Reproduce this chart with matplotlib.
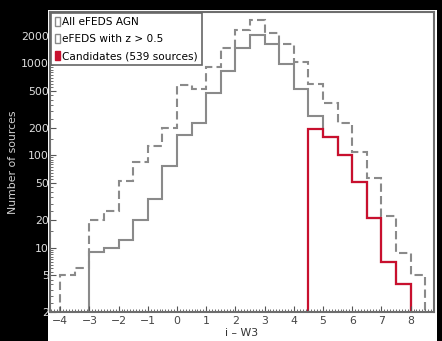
import numpy as np
import matplotlib
matplotlib.use("Agg")
import matplotlib.pyplot as plt
from matplotlib.patches import Rectangle
from matplotlib.ticker import FixedLocator, MultipleLocator, NullFormatter, LogLocator

# bin edges of i - W3 (0.5 wide)
edges_all = np.arange(-4.0, 8.51, 0.5)
edges_z = np.arange(-3.0, 8.01, 0.5)
edges_cand = np.arange(4.5, 8.01, 0.5)

# counts
n_all = [5, 6, 20, 25, 53, 85, 125, 200, 580, 520, 900, 1480, 2320, 2980,
         2150, 1600, 1020, 590, 370, 225, 110, 57, 22, 8.7, 5]
n_z = [9, 10, 12, 20, 34, 77, 168, 227, 480, 815, 1480, 2050, 1600, 970,
       520, 270, 160, 100, 52, 21, 7, 4]
n_cand = [195, 160, 100, 52, 21, 7, 4]

labels = ["All eFEDS AGN", "eFEDS with z > 0.5", "Candidates (539 sources)"]
yticks = [2, 5, 10, 20, 50, 100, 200, 500, 1000, 2000]
xticks = [-4, -3, -2, -1, 0, 1, 2, 3, 4, 5, 6, 7, 8]

gray = "#8a8a8a"
red = "#c8102e"

fig = plt.figure(figsize=(4.42, 3.41), dpi=100, facecolor="black")
# white panel behind the plot
bg = Rectangle((48 / 442, 0), (437 - 48) / 442, (341 - 10) / 341,
               transform=fig.transFigure, facecolor="white",
               edgecolor="none", zorder=-5)
fig.add_artist(bg)
ax = fig.add_axes([50 / 442, 29 / 341, 384 / 442, 300 / 341])
ax.set_zorder(2)
ax.set_facecolor("white")

ax.stairs(n_all, edges_all, baseline=1, color=gray, lw=1.5, ls=(0, (4, 2)))
ax.stairs(n_z, edges_z, baseline=1, color=gray, lw=1.5)
ax.stairs(n_cand, edges_cand, baseline=1, color=red, lw=1.6)

ax.set_yscale("log")
ax.set_xlim(-4.35, 8.8)
ax.set_ylim(2, 3600)

ax.yaxis.set_major_locator(FixedLocator(yticks))
ax.set_yticklabels([str(t) for t in yticks])
ax.yaxis.set_minor_locator(LogLocator(base=10, subs=np.arange(1, 10, 0.5)))
ax.yaxis.set_minor_formatter(NullFormatter())
ax.set_xticks(xticks)
ax.set_xticklabels([f"\u2212{abs(t)}" if t < 0 else str(t) for t in xticks])
ax.xaxis.set_minor_locator(MultipleLocator(0.1))

ax.tick_params(which="both", direction="in", color="#555555")
ax.tick_params(which="major", length=4, width=0.8)
ax.tick_params(which="minor", length=2, width=0.6)
ax.tick_params(axis="y", labelsize=7.8, labelcolor="#e0e0e0", pad=1)
ax.tick_params(axis="x", labelsize=7.8, labelcolor="#444444", pad=3)
for s in ax.spines.values():
    s.set_color("#6e6e6e")
    s.set_linewidth(1.5)

ax.set_xlabel("i \u2013 W3", fontsize=7.8, color="#333333", labelpad=1)
ax.set_ylabel("Number of sources", fontsize=7.8, color="#d0d0d0", labelpad=2)

handles = [Rectangle((0, 0), 1, 1, facecolor="none", edgecolor=gray, lw=1),
           Rectangle((0, 0), 1, 1, facecolor="none", edgecolor=gray, lw=1),
           Rectangle((0, 0), 1, 1, facecolor=red, edgecolor=red, lw=1)]
leg = ax.legend(handles, labels, loc="upper left", fontsize=7.6, fancybox=False,
                handlelength=0.45, handleheight=0.9, handletextpad=0.2,
                borderaxespad=0.1, borderpad=0.4, labelspacing=0.65,
                framealpha=1, edgecolor="#666666")
leg.get_frame().set_linewidth(1.2)

fig.savefig("out.png", dpi=100, facecolor=fig.get_facecolor())
